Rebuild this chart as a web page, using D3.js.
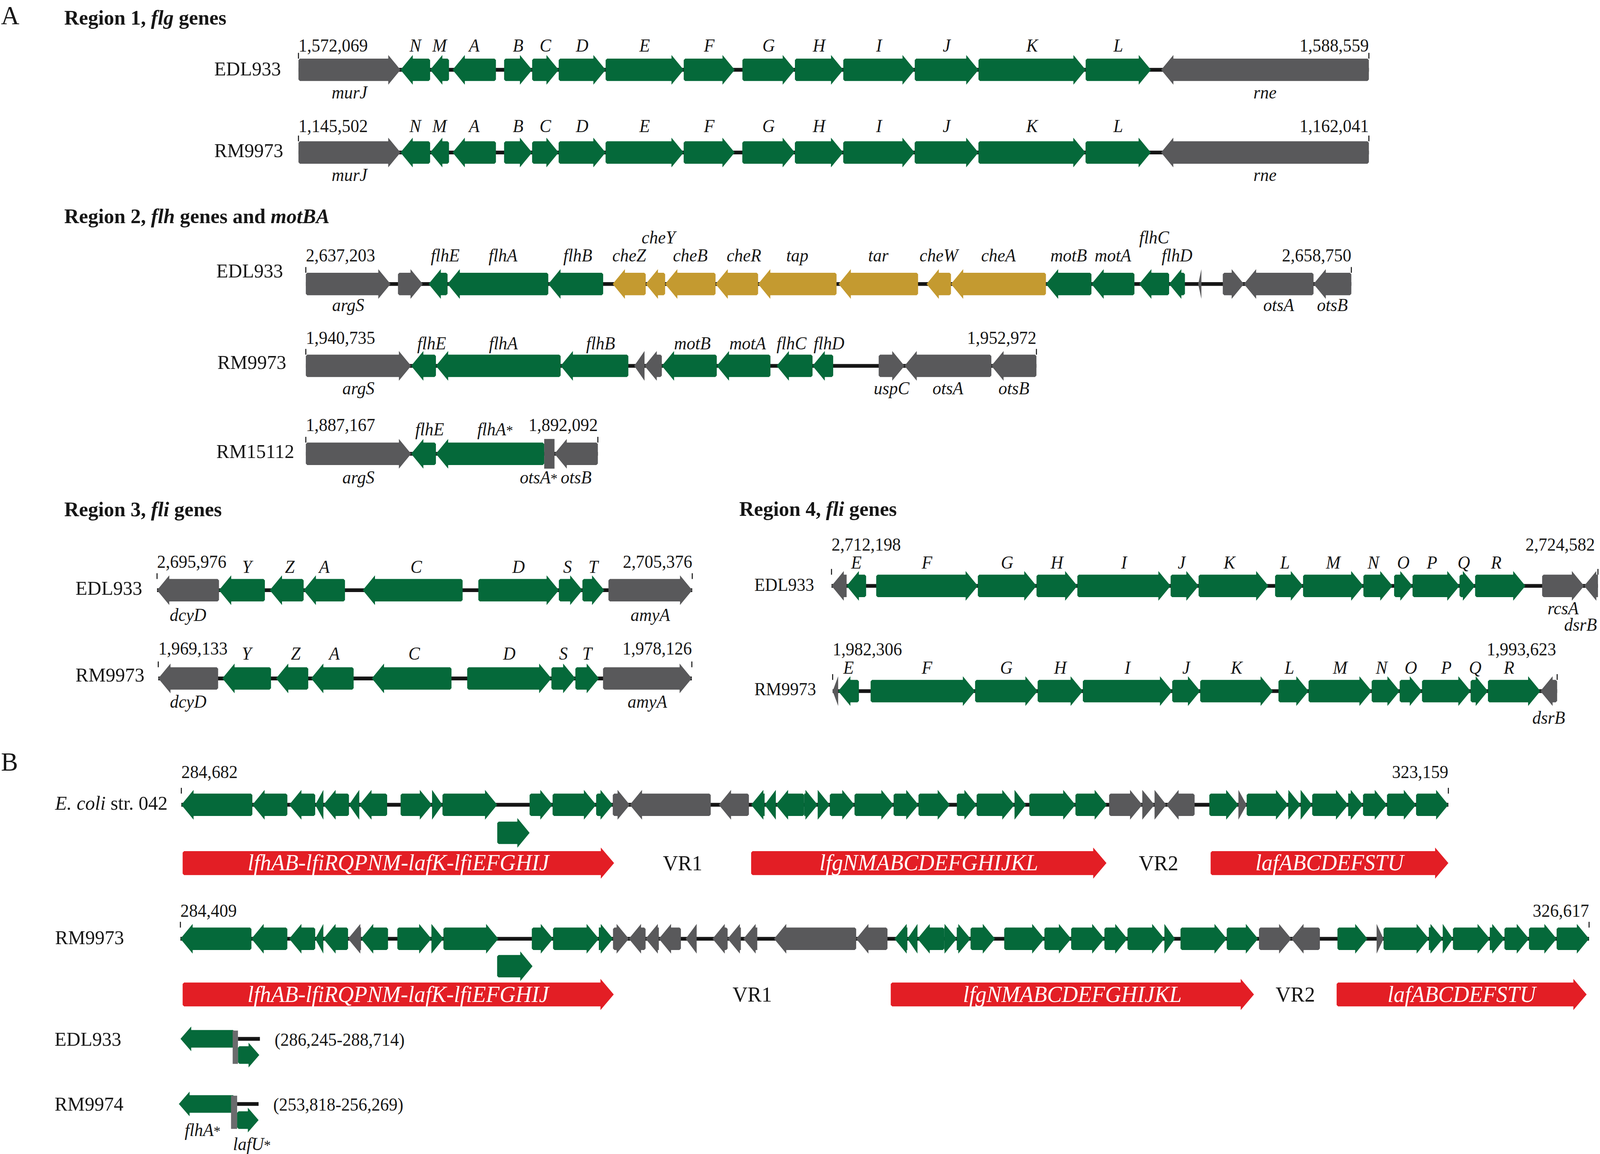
<!DOCTYPE html>
<html>
<head>
<meta charset="utf-8">
<title>Flagellar gene regions</title>
<script src="https://cdn.jsdelivr.net/npm/d3@7"></script>
<style>
	html, body { margin: 0; padding: 0; background: #fff; overflow: hidden; }
	svg { display: block; }
	text { font-family: "Liberation Serif", "Times New Roman", serif; fill: #161616; }
</style>
</head>
<body>
<svg id="chart"></svg>
<script>
// gene records: [name, start kb, end kb, strand, class]
// class: "fla" flagellar (green), "che" chemotaxis (gold), "oth" flanking / other (gray)
// positions are kb from the left coordinate of each strain's region

// ---------- Region 1, flg ----------
var r1Strains = ["EDL933", "RM9973"];
var r1Coords = [[1572069, 1588559], [1145502, 1162041]];
var r1Genes = [
	[
		["murJ", 0, 1.572, 1, "oth"],
		["N", 1.572, 2.028, -1, "fla"],
		["M", 2.028, 2.319, -1, "fla"],
		["A", 2.374, 3.042, -1, "fla"],
		["B", 3.168, 3.600, 1, "fla"],
		["C", 3.600, 4.009, 1, "fla"],
		["D", 4.009, 4.732, 1, "fla"],
		["E", 4.732, 5.935, 1, "fla"],
		["F", 5.935, 6.721, 1, "fla"],
		["G", 6.839, 7.648, 1, "fla"],
		["H", 7.648, 8.393, 1, "fla"],
		["I", 8.393, 9.494, 1, "fla"],
		["J", 9.494, 10.476, 1, "fla"],
		["K", 10.476, 12.127, 1, "fla"],
		["L", 12.127, 13.133, 1, "fla"],
		["rne", 13.290, 16.490, -1, "oth"]
	],
	[
		["murJ", 0, 1.576, 1, "oth"],
		["N", 1.576, 2.034, -1, "fla"],
		["M", 2.034, 2.326, -1, "fla"],
		["A", 2.381, 3.051, -1, "fla"],
		["B", 3.177, 3.610, 1, "fla"],
		["C", 3.610, 4.020, 1, "fla"],
		["D", 4.020, 4.745, 1, "fla"],
		["E", 4.745, 5.952, 1, "fla"],
		["F", 5.952, 6.740, 1, "fla"],
		["G", 6.858, 7.670, 1, "fla"],
		["H", 7.670, 8.417, 1, "fla"],
		["I", 8.417, 9.521, 1, "fla"],
		["J", 9.521, 10.506, 1, "fla"],
		["K", 10.506, 12.161, 1, "fla"],
		["L", 12.161, 13.170, 1, "fla"],
		["rne", 13.328, 16.539, -1, "oth"]
	]
];

// ---------- Region 2, flh and motBA ----------
var r2Strains = ["EDL933", "RM9973", "RM15112"];
var r2Coords = [[2637203, 2658750], [1940735, 1952972], [1887167, 1892092]];
var r2Genes = [
	[
		["argS", 0, 1.746, 1, "oth"],
		["", 1.899, 2.410, 1, "oth"],
		["flhE", 2.530, 2.921, -1, "fla"],
		["flhA", 2.921, 4.997, -1, "fla"],
		["flhB", 4.997, 6.128, -1, "fla"],
		["cheZ", 6.324, 7.005, -1, "che"],
		["cheY", 7.005, 7.405, -1, "che"],
		["cheB", 7.405, 8.444, -1, "che"],
		["cheR", 8.444, 9.321, -1, "che"],
		["tap", 9.321, 10.938, -1, "che"],
		["tar", 10.980, 12.618, -1, "che"],
		["cheW", 12.793, 13.296, -1, "che"],
		["cheA", 13.296, 15.253, -1, "che"],
		["motB", 15.253, 16.191, -1, "fla"],
		["motA", 16.191, 17.077, -1, "fla"],
		["flhC", 17.174, 17.792, -1, "fla"],
		["flhD", 17.792, 18.118, -1, "fla"],
		["", 18.391, 18.457, -1, "oth"],
		["", 18.898, 19.333, 1, "oth"],
		["otsA", 19.333, 20.768, -1, "oth"],
		["otsB", 20.768, 21.547, -1, "oth"]
	],
	[
		["argS", 0, 1.764, 1, "oth"],
		["flhE", 1.764, 2.179, -1, "fla"],
		["flhA", 2.179, 4.268, -1, "fla"],
		["flhB", 4.268, 5.402, -1, "fla"],
		["", 5.500, 5.673, -1, "oth"],
		["", 5.673, 5.963, -1, "oth"],
		["motB", 5.963, 6.883, -1, "fla"],
		["motA", 6.883, 7.782, -1, "fla"],
		["flhC", 7.886, 8.487, -1, "fla"],
		["flhD", 8.487, 8.833, -1, "fla"],
		["uspC", 9.595, 10.027, 1, "oth"],
		["otsA", 10.027, 11.482, -1, "oth"],
		["otsB", 11.482, 12.237, -1, "oth"]
	],
	[
		["argS", 0, 1.776, 1, "oth"],
		["flhE", 1.776, 2.194, -1, "fla"],
		["flhA*", 2.194, 4.020, -1, "fla"],
		["otsA*", 4.020, 4.194, 0, "oth"],
		["otsB", 4.194, 4.925, -1, "oth"]
	]
];

// ---------- Region 3, fli ----------
var r3Strains = ["EDL933", "RM9973"];
var r3Coords = [[2695976, 2705376], [1969133, 1978126]];
var r3Genes = [
	[
		["dcyD", 0, 1.088, -1, "oth"],
		["Y", 1.088, 1.894, -1, "fla"],
		["Z", 1.980, 2.575, -1, "fla"],
		["A", 2.575, 3.301, -1, "fla"],
		["C", 3.613, 5.367, -1, "fla"],
		["D", 5.643, 7.057, 1, "fla"],
		["S", 7.057, 7.471, 1, "fla"],
		["T", 7.471, 7.855, 1, "fla"],
		["amyA", 7.928, 9.400, 1, "oth"]
	],
	[
		["dcyD", 0, 1.009, -1, "oth"],
		["Y", 1.080, 1.900, -1, "fla"],
		["Z", 1.985, 2.528, -1, "fla"],
		["A", 2.576, 3.293, -1, "fla"],
		["C", 3.599, 4.942, -1, "fla"],
		["D", 5.207, 6.626, 1, "fla"],
		["S", 6.626, 7.030, 1, "fla"],
		["T", 7.030, 7.427, 1, "fla"],
		["amyA", 7.496, 8.993, 1, "oth"]
	]
];

// ---------- Region 4, fli ----------
var r4Strains = ["EDL933", "RM9973"];
var r4Coords = [[2712198, 2724582], [1982306, 1993623]];
var r4Genes = [
	[
		["", 0, 0.244, -1, "oth"],
		["E", 0.244, 0.559, -1, "fla"],
		["F", 0.722, 2.364, 1, "fla"],
		["G", 2.364, 3.312, 1, "fla"],
		["H", 3.312, 3.972, 1, "fla"],
		["I", 3.972, 5.479, 1, "fla"],
		["J", 5.479, 5.931, 1, "fla"],
		["K", 5.931, 7.059, 1, "fla"],
		["L", 7.167, 7.619, 1, "fla"],
		["M", 7.619, 8.594, 1, "fla"],
		["N", 8.594, 9.064, 1, "fla"],
		["O", 9.090, 9.388, 1, "fla"],
		["P", 9.388, 10.147, 1, "fla"],
		["Q", 10.147, 10.399, 1, "fla"],
		["R", 10.399, 11.212, 1, "fla"],
		["rcsA", 11.482, 12.160, 1, "oth"],
		["dsrB", 12.160, 12.384, -1, "oth"]
	],
	[
		["", 0, 0.086, -1, "oth"],
		["E", 0.086, 0.410, -1, "fla"],
		["F", 0.593, 2.225, 1, "fla"],
		["G", 2.225, 3.202, 1, "fla"],
		["H", 3.202, 3.908, 1, "fla"],
		["I", 3.908, 5.304, 1, "fla"],
		["J", 5.304, 5.741, 1, "fla"],
		["K", 5.741, 6.876, 1, "fla"],
		["L", 6.964, 7.434, 1, "fla"],
		["M", 7.434, 8.420, 1, "fla"],
		["N", 8.420, 8.857, 1, "fla"],
		["O", 8.857, 9.206, 1, "fla"],
		["P", 9.206, 9.965, 1, "fla"],
		["Q", 9.965, 10.236, 1, "fla"],
		["R", 10.236, 11.055, 1, "fla"],
		["dsrB", 11.055, 11.317, -1, "oth"]
	]
];

// ---------- Panel B, lateral flagella (Flag-2) locus ----------
// unnamed genes: [start kb, end kb, strand, class]
var bStrains = ["E. coli str. 042", "RM9973"];
var bCoords = [[284682, 323159], [284409, 326617]];
var bGenes = [
	[
		[0, 2.157, -1, "fla"], [2.157, 3.220, -1, "fla"], [3.275, 4.066, -1, "fla"], [4.066, 4.314, -1, "fla"],
		[4.314, 5.091, -1, "fla"], [5.091, 5.404, -1, "fla"], [5.404, 6.250, -1, "fla"],
		[6.659, 7.614, 1, "fla"], [7.614, 7.930, 1, "fla"], [7.930, 9.594, 1, "fla"],
		[10.576, 11.274, 1, "fla"], [11.274, 12.597, 1, "fla"], [12.597, 13.102, 1, "fla"],
		[13.102, 13.619, 1, "oth"], [13.619, 16.077, -1, "oth"], [16.322, 17.236, -1, "oth"],
		[17.304, 17.713, -1, "fla"], [17.713, 18.054, -1, "fla"], [18.054, 18.915, -1, "fla"],
		[18.915, 19.325, 1, "fla"], [19.325, 19.693, 1, "fla"], [19.693, 20.443, 1, "fla"],
		[20.443, 21.630, 1, "fla"], [21.630, 22.386, 1, "fla"], [22.386, 23.341, 1, "fla"],
		[23.551, 24.152, 1, "fla"], [24.152, 25.302, 1, "fla"], [25.302, 25.652, 1, "fla"],
		[25.752, 27.152, 1, "fla"], [27.152, 28.107, 1, "fla"],
		[28.175, 29.182, 1, "oth"], [29.182, 29.554, 1, "oth"], [29.554, 29.913, 1, "oth"], [29.913, 30.771, -1, "oth"],
		[31.218, 32.101, 1, "fla"], [32.101, 32.352, 1, "oth"], [32.352, 33.613, 1, "fla"],
		[33.613, 33.991, 1, "fla"], [33.991, 34.342, 1, "fla"], [34.342, 35.435, 1, "fla"],
		[35.435, 35.885, 1, "fla"], [35.885, 36.613, 1, "fla"], [36.613, 37.496, 1, "fla"],
		[37.496, 38.477, 1, "fla"]
	],
	[
		[0, 2.128, -1, "fla"], [2.128, 3.204, -1, "fla"], [3.259, 4.039, -1, "fla"], [4.039, 4.283, -1, "fla"],
		[4.283, 5.023, -1, "fla"], [5.023, 5.411, -1, "oth"], [5.411, 6.221, -1, "fla"],
		[6.500, 7.521, 1, "fla"], [7.521, 7.881, 1, "fla"], [7.881, 9.526, 1, "fla"],
		[10.529, 11.165, 1, "fla"], [11.165, 12.537, 1, "fla"], [12.537, 12.962, 1, "fla"],
		[12.962, 13.436, 1, "oth"], [13.436, 13.938, -1, "oth"], [13.938, 14.335, -1, "oth"],
		[14.335, 14.996, -1, "oth"], [15.139, 15.469, -1, "oth"], [15.943, 16.396, -1, "oth"],
		[16.396, 16.793, -1, "oth"], [16.869, 17.285, -1, "oth"], [17.787, 20.248, -1, "oth"],
		[20.248, 21.186, -1, "oth"],
		[21.394, 21.782, -1, "fla"], [21.782, 22.085, -1, "fla"], [22.085, 22.886, -1, "fla"],
		[22.886, 23.262, 1, "fla"], [23.262, 23.675, 1, "fla"], [23.675, 24.408, 1, "fla"],
		[24.684, 25.888, 1, "fla"], [25.888, 26.689, 1, "fla"], [26.689, 27.686, 1, "fla"],
		[27.686, 28.377, 1, "fla"], [28.377, 29.483, 1, "fla"], [29.483, 29.801, 1, "fla"],
		[29.966, 31.351, 1, "fla"], [31.351, 32.290, 1, "fla"],
		[32.317, 33.286, 1, "oth"], [33.286, 34.142, -1, "oth"],
		[34.668, 35.567, 1, "fla"], [35.842, 36.050, 1, "oth"], [36.050, 37.407, 1, "fla"],
		[37.407, 37.823, 1, "fla"], [37.823, 38.129, 1, "fla"], [38.129, 39.233, 1, "fla"],
		[39.233, 39.673, 1, "fla"], [39.673, 40.407, 1, "fla"], [40.407, 41.235, 1, "fla"],
		[41.235, 42.208, 1, "fla"]
	]
];
// gene drawn off the line, inside the lfiJ-lfhA gap
var bInsert = [[9.594, 10.576], [9.490, 10.550]];
var operonNames = ["lfhAB-lfiRQPNM-lafK-lfiEFGHIJ", "lfgNMABCDEFGHIJKL", "lafABCDEFSTU"];
var operonSpans = [
	[[0.040, 13.142], [17.304, 28.094], [31.258, 38.477]],
	[[0.067, 12.984], [21.284, 32.167], [34.644, 42.135]]
];
var vrNames = ["VR1", "VR2"];

// remnant junctions
var jStrains = ["EDL933", "RM9974"];
var jCoords = [[286245, 288714], [253818, 256269]];
var jFlhA = [[0, 1.679], [0, 1.711]];
var jBar = [[1.622, 1.787], [1.604, 1.792]];
var jLafU = [[1.787, 2.450], [1.792, 2.451]];

// ---------- layout (page units, 1568 wide) ----------
var W = 1568, H = 1102.4;
var GREEN = "#05693a", GOLD = "#c49a30", GRAY = "#59595b", RED = "#e31e25", INK = "#151515";
var fill = {fla: GREEN, che: GOLD, oth: GRAY};

var geneShape = {bh: 10.7, hh: 14.2, head: 12};
var operonShape = {bh: 11.4, hh: 14.9, head: 13};
var smallShape = {bh: 8.4, hh: 11.8, head: 10.5};

var r1Layout = [
	{c: 66.7, x0: 292.5, x1: 1341.5, nameX: 210, nameDy: 5.3, coordDy: -17.6, labelDy: -17.6, lowerDy: 27.3},
	{c: 145.7, x0: 292.5, x1: 1341.5, nameX: 210, nameDy: 4.2, coordDy: -19.5, labelDy: -19.5, lowerDy: 27.2}
];
var r2Layout = [
	{c: 271.3, x0: 299.7, x1: 1324.3, nameX: 212, nameDy: -6.2, coordDy: -21.6, labelDy: -21.6, lowerDy: 25.8,
		raise: ["cheY", "flhC"], shift: {flhE: 7, flhA: 5, flhB: 2, cheY: 3, cheR: 7}},
	{c: 349.5, x0: 299.7, x1: 1015.7, nameX: 213, nameDy: 3, coordDy: -21.1, labelDy: -15.7, lowerDy: 27,
		shift: {flhE: 8, flhA: 5, flhB: 6, motB: 3, motA: 4, flhC: -3, flhD: 6}},
	{c: 433.5, x0: 299.7, x1: 585.9, nameX: 212, nameDy: 4, coordDy: -21.8, labelDy: -17.6, lowerDy: 28.4,
		endAnchor: ["otsA*"], shift: {flhE: 6, "flhA*": 5}}
];
var r3Layout = [
	{c: 563.8, x0: 153.9, x1: 678.4, nameX: 74, nameDy: 4.4, coordDy: -21.3, labelDy: -16.4, lowerDy: 29.4,
		shift: {Y: 5, Z: 3, C: 3.5, S: -3}},
	{c: 648.1, x0: 155.1, x1: 678.0, nameX: 74, nameDy: 2.8, coordDy: -22.9, labelDy: -18.1, lowerDy: 27.8,
		shift: {Z: 3.5, A: 2, C: 2.5}}
];
var r4Layout = [
	{c: 559.7, x0: 814.9, x1: 1566, endDx: -3, nameX: 739.3, nameSize: 17, nameDy: 4.8, coordDy: -33.7,
		labelDy: -16.7, lowerDy: 27.1, drop: {dsrB: 15.6},
		shift: {J: -3, K: -4, L: -4, N: -4.5, P: -4, Q: -3.5, R: -4}},
	{c: 660.2, x0: 816, x1: 1526, endDx: -1, nameX: 739.3, nameSize: 17, nameDy: 3.8, coordDy: -34,
		labelDy: -16.6, lowerDy: 31.2, shift: {F: 4, L: -4, N: -4, Q: -4, R: -5}}
];
var bLayout = [
	{c: 768.8, x0: 177.7, x1: 1419.4, nameX: 54, nameDy: 4.7, coordDy: -25.4, insC: 795.6, opC: 824.5},
	{c: 896.8, x0: 176.8, x1: 1557.3, nameX: 54, nameDy: 5, coordDy: -20.9, insC: 923, opC: 950}
];
var jLayout = [
	{c: 992.4, c2: 1007.9, x0: 176.9, x1: 254.7, nameX: 53.5, labels: false},
	{c: 1054.6, c2: 1070, x0: 175.3, x1: 253.4, nameX: 53.5, labels: true}
];

var fmt = d3.format(",");

// the photographed area can be narrower than the 4200 px window, so fit the figure to it
var pageW = Math.min(window.innerWidth || 4200, 4096),
	pageH = window.innerHeight || 2953;

var svg = d3.select("#chart")
	.attr("width", pageW)
	.attr("height", pageH)
	.attr("viewBox", "0 0 " + W + " " + H)
	.attr("preserveAspectRatio", "none");

svg.append("rect").attr("width", W).attr("height", H).attr("fill", "#fff");

// arrow outline between two pixel positions; strand 0 gives a plain block
function arrowPath(xa, xb, strand, c, s) {
	var len = xb - xa, hl = Math.min(s.head, len), ch = 1.4, pts;
	if (strand === 0) {
		pts = [[xa, c - s.hh], [xb, c - s.hh], [xb, c + s.hh], [xa, c + s.hh]];
	} else if (hl >= len) {
		pts = strand > 0
			? [[xa, c - s.hh], [xb, c], [xa, c + s.hh]]
			: [[xb, c - s.hh], [xa, c], [xb, c + s.hh]];
	} else if (strand > 0) {
		var bx = xb - hl, t = (bx - xa) > 2 * ch ? ch : 0;
		pts = [[xa + t, c - s.bh], [bx, c - s.bh], [bx, c - s.hh], [xb, c], [bx, c + s.hh], [bx, c + s.bh],
			[xa + t, c + s.bh], [xa, c + s.bh - t], [xa, c - s.bh + t]];
	} else {
		var bx2 = xa + hl, t2 = (xb - bx2) > 2 * ch ? ch : 0;
		pts = [[xb - t2, c - s.bh], [bx2, c - s.bh], [bx2, c - s.hh], [xa, c], [bx2, c + s.hh], [bx2, c + s.bh],
			[xb - t2, c + s.bh], [xb, c + s.bh - t2], [xb, c - s.bh + t2]];
	}
	return "M" + pts.map(function(p) { return p[0].toFixed(2) + "," + p[1].toFixed(2); }).join("L") + "Z";
}

function geneText(sel, name) {
	var star = name.slice(-1) === "*";
	sel.append("tspan").text(star ? name.slice(0, -1) : name);
	if (star) {
		sel.append("tspan").attr("font-style", "normal").attr("font-size", "0.8em").text("*");
	}
}

// keep a label inside the page on the right
function keepInside() {
	var b = this.getBBox(), over = b.x + b.width - (W - 3);
	if (over > 0) d3.select(this).attr("x", +d3.select(this).attr("x") - over);
}

function drawTitle(x, y, parts) {
	var t = svg.append("text")
		.attr("x", x).attr("y", y)
		.attr("font-size", 20)
		.attr("font-weight", "bold");
	parts.forEach(function(p, i) {
		t.append("tspan").attr("font-style", i % 2 ? "italic" : "normal").text(p);
	});
}

function drawName(x, y, name, size) {
	var t = svg.append("text").attr("x", x).attr("y", y).attr("font-size", size || 19);
	if (name.indexOf("E. coli") === 0) {
		t.append("tspan").attr("font-style", "italic").text("E. coli");
		t.append("tspan").text(name.slice(7));
	} else {
		t.text(name);
	}
}

function drawBackbone(g, x, len, c, s) {
	g.append("line")
		.attr("x1", x(0)).attr("x2", x(len))
		.attr("y1", c).attr("y2", c)
		.attr("stroke", INK)
		.attr("stroke-width", 3.6);

	g.selectAll("line.end")
		.data([0, len])
		.enter()
		.append("line")
		.attr("class", "end")
		.attr("x1", x).attr("x2", x)
		.attr("y1", c - s.bh)
		.attr("y2", c - s.hh - 2)
		.attr("stroke", INK)
		.attr("stroke-width", 1);
}

function drawCoords(g, x, len, c, coords, dy, endDx) {
	g.append("text")
		.attr("x", x(0)).attr("y", c + dy)
		.attr("font-size", 17)
		.text(fmt(coords[0]));
	g.append("text")
		.attr("x", x(len) + (endDx || 0)).attr("y", c + dy)
		.attr("font-size", 17)
		.attr("text-anchor", "end")
		.text(fmt(coords[1]));
}

function drawTrack(strain, coords, genes, lay) {
	var g = svg.append("g"),
		len = (coords[1] - coords[0]) / 1000,
		x = d3.scaleLinear().domain([0, len]).range([lay.x0, lay.x1]),
		c = lay.c,
		s = geneShape,
		raise = lay.raise || [],
		drop = lay.drop || {},
		shift = lay.shift || {},
		endAnchor = lay.endAnchor || [];

	drawBackbone(g, x, len, c, s);

	g.selectAll("path.gene")
		.data(genes)
		.enter()
		.append("path")
		.attr("class", "gene")
		.attr("d", function(d) { return arrowPath(x(d[1]), x(d[2]), d[3], c, s); })
		.attr("fill", function(d) { return fill[d[4]]; });

	// names of flagellar / chemotaxis genes go above, flanking genes below
	g.selectAll("text.above")
		.data(genes.filter(function(d) { return d[0] && d[4] !== "oth"; }))
		.enter()
		.append("text")
		.attr("class", "above")
		.attr("x", function(d) { return (x(d[1]) + x(d[2])) / 2 + (shift[d[0]] || 0); })
		.attr("y", function(d) { return c + lay.labelDy - (raise.indexOf(d[0]) >= 0 ? 17.2 : 0); })
		.attr("font-size", 17)
		.attr("font-style", "italic")
		.attr("text-anchor", "middle")
		.each(function(d) { geneText(d3.select(this), d[0]); });

	g.selectAll("text.below")
		.data(genes.filter(function(d) { return d[0] && d[4] === "oth"; }))
		.enter()
		.append("text")
		.attr("class", "below")
		.attr("x", function(d) {
			return endAnchor.indexOf(d[0]) >= 0 ? x(d[2]) + 3 : (x(d[1]) + x(d[2])) / 2;
		})
		.attr("y", function(d) { return c + lay.lowerDy + (drop[d[0]] || 0); })
		.attr("font-size", 17)
		.attr("font-style", "italic")
		.attr("text-anchor", function(d) { return endAnchor.indexOf(d[0]) >= 0 ? "end" : "middle"; })
		.each(function(d) { geneText(d3.select(this), d[0]); })
		.each(keepInside);

	drawCoords(g, x, len, c, coords, lay.coordDy, lay.endDx);
	drawName(lay.nameX, c + lay.nameDy, strain, lay.nameSize);
}

function drawLocus(strain, coords, genes, insert, operons, lay) {
	var g = svg.append("g"),
		len = (coords[1] - coords[0]) / 1000,
		x = d3.scaleLinear().domain([0, len]).range([lay.x0, lay.x1]),
		c = lay.c,
		s = geneShape;

	drawBackbone(g, x, len, c, s);

	g.selectAll("path.gene")
		.data(genes)
		.enter()
		.append("path")
		.attr("class", "gene")
		.attr("d", function(d) { return arrowPath(x(d[0]), x(d[1]), d[2], c, s); })
		.attr("fill", function(d) { return fill[d[3]]; });

	g.append("path")
		.attr("d", arrowPath(x(insert[0]), x(insert[1]), 1, lay.insC, s))
		.attr("fill", GREEN);

	var op = g.selectAll("g.operon")
		.data(operons)
		.enter()
		.append("g")
		.attr("class", "operon");

	op.append("path")
		.attr("d", function(d) { return arrowPath(x(d[0]), x(d[1]), 1, lay.opC, operonShape); })
		.attr("fill", RED);

	op.append("text")
		.attr("x", function(d) { return (x(d[0]) + x(d[1])) / 2; })
		.attr("y", lay.opC + 7)
		.attr("font-size", 21.8)
		.attr("font-style", "italic")
		.attr("text-anchor", "middle")
		.style("fill", "#fff")
		.text(function(d, i) { return operonNames[i]; });

	g.selectAll("text.vr")
		.data(vrNames)
		.enter()
		.append("text")
		.attr("class", "vr")
		.attr("x", function(d, i) { return x((operons[i][1] + operons[i + 1][0]) / 2); })
		.attr("y", lay.opC + 6.9)
		.attr("font-size", 20.5)
		.attr("text-anchor", "middle")
		.text(function(d) { return d; });

	drawCoords(g, x, len, c, coords, lay.coordDy);
	drawName(lay.nameX, c + lay.nameDy, strain);
}

function drawJunction(i) {
	var lay = jLayout[i],
		g = svg.append("g"),
		coords = jCoords[i],
		len = (coords[1] - coords[0]) / 1000,
		x = d3.scaleLinear().domain([0, len]).range([lay.x0, lay.x1]),
		s = smallShape;

	g.append("line")
		.attr("x1", x(jBar[i][1])).attr("x2", x(len))
		.attr("y1", lay.c).attr("y2", lay.c)
		.attr("stroke", INK)
		.attr("stroke-width", 3.6);

	g.append("path")
		.attr("d", arrowPath(x(jFlhA[i][0]), x(jFlhA[i][1]), -1, lay.c, s))
		.attr("fill", GREEN);
	g.append("path")
		.attr("d", arrowPath(x(jLafU[i][0]), x(jLafU[i][1]), 1, lay.c2, s))
		.attr("fill", GREEN);
	g.append("rect")
		.attr("x", x(jBar[i][0]))
		.attr("width", x(jBar[i][1]) - x(jBar[i][0]))
		.attr("y", lay.c - s.bh + 0.5)
		.attr("height", lay.c2 - lay.c + 2 * s.bh - 0.5)
		.attr("fill", "#6a6b6d");

	if (lay.labels) {
		g.append("text")
			.attr("x", (x(jFlhA[i][0]) + x(jFlhA[i][1])) / 2 - 4)
			.attr("y", lay.c + 30.8)
			.attr("font-size", 17).attr("font-style", "italic").attr("text-anchor", "middle")
			.call(function(t) { geneText(t, "flhA*"); });
		g.append("text")
			.attr("x", (x(jLafU[i][0]) + x(jLafU[i][1])) / 2 + 4)
			.attr("y", lay.c2 + 28.5)
			.attr("font-size", 17).attr("font-style", "italic").attr("text-anchor", "middle")
			.call(function(t) { geneText(t, "lafU*"); });
	}

	g.append("text")
		.attr("x", x(len) + 14.4)
		.attr("y", lay.c + 6.5)
		.attr("font-size", 17)
		.text("(" + fmt(coords[0]) + "-" + fmt(coords[1]) + ")");
	drawName(lay.nameX, lay.c + 6.5, jStrains[i]);
}

// ---------- panel A ----------
svg.append("text").attr("x", 1).attr("y", 23).attr("font-size", 25).text("A");
drawTitle(63, 23.6, ["Region 1, ", "flg", " genes"]);
drawTitle(63, 213, ["Region 2, ", "flh", " genes and ", "motBA"]);
drawTitle(63, 493.2, ["Region 3, ", "fli", " genes"]);
drawTitle(724.5, 492.6, ["Region 4, ", "fli", " genes"]);

r1Strains.forEach(function(s, i) { drawTrack(s, r1Coords[i], r1Genes[i], r1Layout[i]); });
r2Strains.forEach(function(s, i) { drawTrack(s, r2Coords[i], r2Genes[i], r2Layout[i]); });
r3Strains.forEach(function(s, i) { drawTrack(s, r3Coords[i], r3Genes[i], r3Layout[i]); });
r4Strains.forEach(function(s, i) { drawTrack(s, r4Coords[i], r4Genes[i], r4Layout[i]); });

// ---------- panel B ----------
svg.append("text").attr("x", 1).attr("y", 736).attr("font-size", 25).text("B");
bStrains.forEach(function(s, i) {
	drawLocus(s, bCoords[i], bGenes[i], bInsert[i], operonSpans[i], bLayout[i]);
});
jStrains.forEach(function(s, i) { drawJunction(i); });
</script>
</body>
</html>
